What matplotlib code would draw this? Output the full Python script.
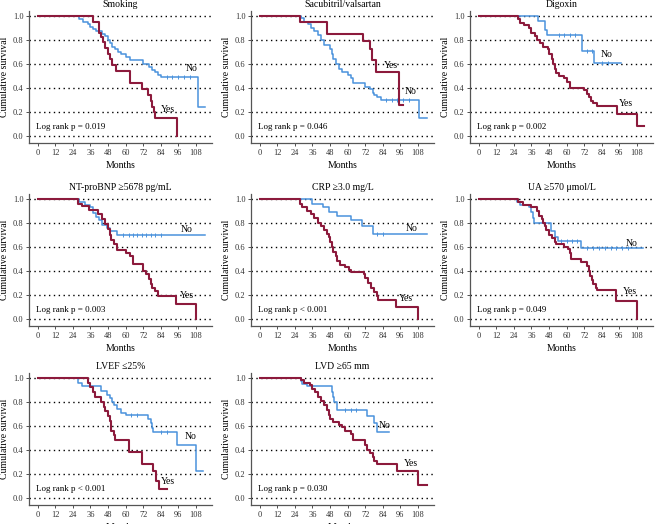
import numpy as np
import matplotlib
matplotlib.use("Agg")
import matplotlib.pyplot as plt

plt.rcParams['font.family'] = ['Liberation Serif', 'DejaVu Serif']

RED = "#8c1a3c"
BLUE = "#4a92dc"

# ---- data (months, cumulative survival) ----
titles = ["Smoking", "Sacubitril/valsartan", "Digoxin",
          "NT-proBNP \u22655678 pg/mL", "CRP \u22653.0 mg/L", "UA \u2265570 \u03bcmol/L",
          "LVEF \u226425%", "LVD \u226565 mm"]
pvalues = ["p = 0.019", "p = 0.046", "p = 0.002", "p = 0.003",
           "p < 0.001", "p = 0.049", "p < 0.001", "p = 0.030"]

smoking_no_t = [0, 28, 31, 34, 36, 38, 40, 44, 46, 48, 49, 51, 53, 55, 57, 60, 63, 72, 76, 78, 80, 82, 84, 109.5, 114]
smoking_no_s = [1, .97, .95, .93, .91, .89, .87, .85, .83, .80, .77, .74, .72, .70, .68, .66, .63, .60, .57, .55, .53, .51, .49, .24, .24]
smoking_yes_t = [0, 37.7, 41.8, 43, 44.5, 46, 48, 49.5, 51, 53.7, 62.8, 71.5, 75.3, 77, 78.3, 79.3, 80.4, 95.4]
smoking_yes_s = [1, .95, .86, .82, .78, .73, .68, .64, .59, .54, .44, .39, .34, .29, .24, .20, .15, 0]

sacu_no_t = [0, 28, 30, 33, 35, 37, 40, 42, 44, 48, 49, 50, 52, 54, 56, 60, 62, 64, 72, 75, 77, 78, 80, 83, 109, 114]
sacu_no_s = [1, .98, .95, .93, .90, .87, .84, .80, .76, .72, .68, .64, .60, .56, .53, .51, .48, .44, .41, .39, .36, .34, .32, .30, .15, .15]
sacu_yes_t = [0, 27.6, 45.6, 70.6, 75.2, 76.5, 79.7, 95.2, 98]
sacu_yes_s = [1, .95, .85, .79, .72, .63, .53, .26, .26]

digoxin_no_t = [0, 40.2, 45, 46.8, 70.2, 78.9, 97]
digoxin_no_s = [1, .96, .88, .84, .71, .61, .61]
digoxin_yes_t = [0, 26.6, 28, 31, 34, 36, 38.5, 40, 42, 44, 47, 48, 50, 51, 52, 53, 55, 58, 60, 62, 72, 74, 75, 76.5, 78, 81, 94.5, 108, 113]
digoxin_yes_s = [1, .97, .94, .92, .90, .86, .83, .80, .77, .74, .72, .68, .64, .60, .56, .52, .50, .48, .45, .40, .38, .35, .32, .29, .27, .25, .18, .08, .08]

ntpro_no_t = [0, 28.4, 32, 36, 38, 40, 42, 44, 47, 49, 54, 114]
ntpro_no_s = [1, .97, .95, .93, .88, .85, .82, .78, .76, .73, .70, .70]
ntpro_yes_t = [0, 27.5, 30, 35, 41, 44, 46, 48, 49, 50, 52, 54, 60, 63, 65, 71.6, 74, 76, 77, 78, 80, 82, 94.3, 108]
ntpro_yes_s = [1, .96, .94, .91, .87, .83, .79, .75, .70, .66, .62, .57, .55, .52, .46, .40, .37, .33, .29, .26, .23, .19, .12, 0]

crp_no_t = [0, 35.8, 43, 47, 52.8, 62, 70, 77, 114]
crp_no_s = [1, .96, .93, .89, .86, .82, .77, .71, .71]
crp_yes_t = [0, 27.2, 29, 32, 35, 37, 40, 42, 44, 46, 47, 48, 49, 50, 52, 53, 55, 58, 61, 62, 71, 72, 74, 76, 78, 80, 81, 93, 108]
crp_yes_s = [1, .96, .93, .90, .87, .84, .80, .77, .74, .71, .68, .64, .60, .56, .52, .48, .45, .43, .41, .39, .37, .34, .30, .26, .22, .19, .16, .10, 0]

ua_no_t = [0, 26, 28, 34, 36, 37, 38, 49, 52, 54, 70, 112]
ua_no_s = [1, .97, .95, .93, .89, .84, .80, .73, .68, .65, .59, .59]
ua_yes_t = [0, 27, 30, 36, 40, 41, 43, 44, 45, 46, 48, 50, 52, 53, 58, 61, 62, 63, 70, 74, 75, 76, 77, 78, 80, 81, 94, 108]
ua_yes_s = [1, .97, .95, .93, .90, .86, .83, .80, .77, .74, .70, .67, .64, .62, .60, .58, .55, .50, .47, .44, .40, .36, .32, .29, .26, .24, .15, 0]

lvef_no_t = [0, 27.5, 30, 43, 47, 49, 51, 52, 54, 57, 60, 75, 77, 78, 79, 95, 108, 113]
lvef_no_s = [1, .96, .93, .89, .86, .83, .80, .77, .74, .71, .69, .66, .62, .58, .55, .44, .22, .22]
lvef_yes_t = [0, 34.5, 36, 37.5, 39, 43, 45, 46, 48, 49, 50, 52, 53, 62.5, 71.3, 78.5, 81, 82.5, 88]
lvef_yes_s = [1, .96, .92, .88, .84, .80, .76, .72, .68, .64, .56, .52, .48, .38, .28, .22, .14, .07, .07]

lvd_no_t = [0, 28, 29, 32, 49, 50, 51, 53, 73.5, 78, 80, 88]
lvd_no_s = [1, .97, .95, .93, .88, .84, .80, .73, .68, .62, .55, .55]
lvd_yes_t = [0, 28, 30, 34, 36, 38, 40, 42, 44, 46, 47, 48, 50, 54, 56, 58, 62, 64, 72, 73, 75, 77, 78, 80, 94, 108, 114]
lvd_yes_s = [1, .98, .96, .94, .91, .88, .84, .81, .77, .73, .69, .66, .63, .61, .59, .56, .53, .48, .44, .40, .37, .34, .31, .28, .22, .11, .11]

# censoring ticks on the "No" curves (months)
smoking_no_c = [88, 92, 96, 100, 104]
sacu_no_c = [86, 90, 94, 98, 102]
digoxin_no_c = [55, 58, 62, 66, 74, 77, 84, 88]
ntpro_no_c = [58, 62, 65, 68, 71, 74, 77, 80, 84]
crp_no_c = [80, 84]
ua_no_c = [56, 60, 64, 67, 74, 78, 82, 86, 90, 94, 98, 102]
lvef_no_c = [64, 68, 84, 88]
lvd_no_c = [58, 62, 66]

no_curves = [(smoking_no_t, smoking_no_s, smoking_no_c), (sacu_no_t, sacu_no_s, sacu_no_c),
             (digoxin_no_t, digoxin_no_s, digoxin_no_c), (ntpro_no_t, ntpro_no_s, ntpro_no_c),
             (crp_no_t, crp_no_s, crp_no_c), (ua_no_t, ua_no_s, ua_no_c),
             (lvef_no_t, lvef_no_s, lvef_no_c), (lvd_no_t, lvd_no_s, lvd_no_c)]
yes_curves = [(smoking_yes_t, smoking_yes_s), (sacu_yes_t, sacu_yes_s),
              (digoxin_yes_t, digoxin_yes_s), (ntpro_yes_t, ntpro_yes_s),
              (crp_yes_t, crp_yes_s), (ua_yes_t, ua_yes_s),
              (lvef_yes_t, lvef_yes_s), (lvd_yes_t, lvd_yes_s)]

# label positions (month, survival) for "No" and "Yes"
no_label_xy = [(105, .56), (103, .37), (87, .68), (102, .74), (104, .75), (104.5, .63), (104.6, .51), (85, .60)]
yes_label_xy = [(89, .22), (89.5, .59), (100.7, .27), (102, .19), (100, .17), (103, .23), (89, .14), (103, .29)]

xticks = [0, 12, 24, 36, 48, 60, 72, 84, 96, 108]
yticks = [0.0, 0.2, 0.4, 0.6, 0.8, 1.0]

fig = plt.figure(figsize=(6.55, 5.24), dpi=100)

lefts = [29, 251, 470]
bottoms = [143, 326, 505]
W, H = 183, 132

for i in range(8):
    r, c = divmod(i, 3)
    ax = fig.add_axes([lefts[c] / 655, 1 - bottoms[r] / 524, W / 655, H / 524])
    ax.set_xlim(-6, 119)
    ax.set_ylim(-0.06, 1.04)

    for y in yticks:
        ax.axhline(y, color="black", linestyle=(0, (1, 2.5)), linewidth=1.0, zorder=1)

    t, s, cens = no_curves[i]
    ax.step(t, s, where="post", color=BLUE, linewidth=1.1, zorder=3)
    cy = [s[np.searchsorted(t, x, side="right") - 1] for x in cens]
    ax.plot(cens, cy, linestyle="none", marker="|", markersize=3, color=BLUE, markeredgewidth=0.7, zorder=3)

    t, s = yes_curves[i]
    ax.step(t, s, where="post", color=RED, linewidth=1.5, zorder=4)

    ax.text(*no_label_xy[i], "No", fontsize=7, ha="center", va="center", zorder=5)
    ax.text(*yes_label_xy[i], "Yes", fontsize=7, ha="center", va="center", zorder=5)
    ax.text(-1, 0.07, "Log rank " + pvalues[i], fontsize=6.5, ha="left", va="center")

    ax.set_title(titles[i], fontsize=7, pad=3)
    ax.set_xticks(xticks)
    ax.set_yticks(yticks)
    ax.set_yticklabels([f"{v:.1f}" for v in yticks])
    ax.tick_params(labelsize=6, length=2, width=0.6, colors="#333333", pad=2)
    ax.set_xlabel("Months", fontsize=7, labelpad=3)
    ax.set_ylabel("Cumulative survival", fontsize=7, labelpad=3)
    for side in ["top", "right"]:
        ax.spines[side].set_visible(False)
    for side in ["left", "bottom"]:
        ax.spines[side].set_color("#555555")
        ax.spines[side].set_linewidth(0.9)

fig.savefig("out.png", dpi=100)
